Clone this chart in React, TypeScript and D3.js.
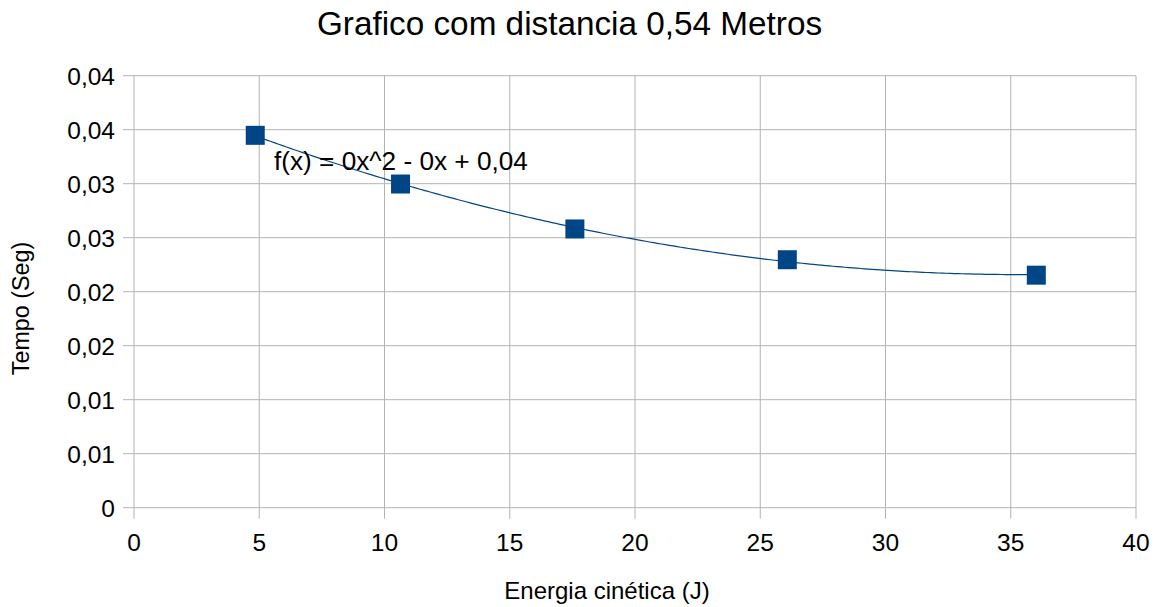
import React from "react";
import * as d3 from "d3";

const energy = [4.84, 10.64, 17.6, 26.08, 36.02];
const tempo = [0.03448, 0.02997, 0.02581, 0.02296, 0.02153];
const xTicks = [0, 5, 10, 15, 20, 25, 30, 35, 40];
const yTicks = [0, 0.005, 0.01, 0.015, 0.02, 0.025, 0.03, 0.035, 0.04];
const yTickLabels = ["0", "0,01", "0,01", "0,02", "0,02", "0,03", "0,03", "0,04", "0,04"];
const title = "Grafico com distancia 0,54 Metros";
const xTitle = "Energia cinética (J)";
const yTitle = "Tempo (Seg)";
const equation = "f(x) = 0x^2 - 0x + 0,04";

function quadFit(xs: number[], ys: number[]) {
  let s0 = 0, s1 = 0, s2 = 0, s3 = 0, s4 = 0, t0 = 0, t1 = 0, t2 = 0;
  xs.forEach((x, i) => {
    const y = ys[i];
    s0 += 1; s1 += x; s2 += x * x; s3 += x ** 3; s4 += x ** 4;
    t0 += y; t1 += x * y; t2 += x * x * y;
  });
  const M = [
    [s4, s3, s2, t2],
    [s3, s2, s1, t1],
    [s2, s1, s0, t0],
  ];
  for (let i = 0; i < 3; i++) {
    for (let k = i + 1; k < 3; k++) {
      const f = M[k][i] / M[i][i];
      for (let j = i; j < 4; j++) M[k][j] -= f * M[i][j];
    }
  }
  const r = [0, 0, 0];
  for (let i = 2; i >= 0; i--) {
    let s = M[i][3];
    for (let j = i + 1; j < 3; j++) s -= M[i][j] * r[j];
    r[i] = s / M[i][i];
  }
  return r;
}

export default function App() {
  const W = 1159, H = 607;
  const left = 134, right = 1136, top = 75.7, bottom = 507.7;
  const x = d3.scaleLinear().domain([0, 40]).range([left, right]);
  const y = d3.scaleLinear().domain([0, 0.04]).range([bottom, top]);
  const [a, b, c] = quadFit(energy, tempo);
  const xmin = d3.min(energy)!, xmax = d3.max(energy)!;
  const curvePts = d3.range(0, 201).map((i) => {
    const xv = xmin + ((xmax - xmin) * i) / 200;
    return [xv, a * xv * xv + b * xv + c] as [number, number];
  });
  const line = d3.line<[number, number]>().x((d) => x(d[0])).y((d) => y(d[1]));
  const font = "'Liberation Sans', Arial, sans-serif";
  const grid = "#b3b3b3";
  const blue = "#004586";
  return (
    <svg width={W} height={H} style={{ position: "absolute", left: 0, top: 0, background: "#fff" }} fontFamily={font}>
      <rect x={0} y={0} width={W} height={H} fill="#fff" />
      {yTicks.map((t, i) => (
        <g key={"y" + i}>
          <line x1={left - 11} x2={right} y1={y(t)} y2={y(t)} stroke={grid} strokeWidth={1} />
          <text x={115} y={y(t) + 9.5} textAnchor="end" fontSize={24.5} fill="#000">{yTickLabels[i]}</text>
        </g>
      ))}
      {xTicks.map((t, i) => (
        <g key={"x" + i}>
          <line x1={x(t)} x2={x(t)} y1={top} y2={bottom + 11} stroke={grid} strokeWidth={1} />
          <text x={x(t)} y={551} textAnchor="middle" fontSize={24.5} fill="#000">{t}</text>
        </g>
      ))}
      <path d={line(curvePts)!} fill="none" stroke={blue} strokeWidth={1.2} />
      {energy.map((e, i) => (
        <rect key={"p" + i} x={x(e) - 9.5} y={y(tempo[i]) - 9.5} width={19} height={19} fill={blue} />
      ))}
      <text x={274} y={170} fontSize={26.2} fill="#000">{equation}</text>
      <text x={569.5} y={35} textAnchor="middle" fontSize={33.3} fill="#000">{title}</text>
      <text x={607} y={599} textAnchor="middle" fontSize={24} fill="#000">{xTitle}</text>
      <text transform={`translate(29,308.5) rotate(-90)`} textAnchor="middle" fontSize={23.3} fill="#000">{yTitle}</text>
    </svg>
  );
}
